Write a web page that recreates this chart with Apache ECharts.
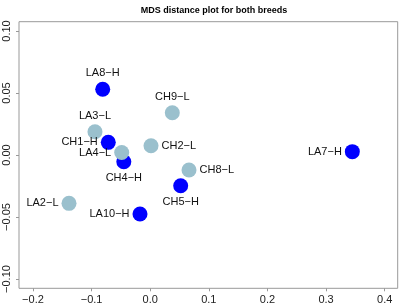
<!DOCTYPE html>
<html>
<head>
<meta charset="utf-8">
<script src="https://cdn.jsdelivr.net/npm/echarts@6/dist/echarts.min.js"></script>
<style>
html,body{margin:0;padding:0;background:#fff;}
#c{width:400px;height:306px;}
</style>
</head>
<body>
<div id="c"></div>
<script>
// samples in draw order (later ones sit on top)
const names = ["LA8−H","CH9−L","LA3−L","CH1−H","CH2−L","CH4−H","LA4−L","CH8−L","CH5−H","LA2−L","LA10−H","LA7−H"];
const dim1  = [-0.0810, 0.0377,-0.0942,-0.0715, 0.0014,-0.0450,-0.0486, 0.0662, 0.0520,-0.1385,-0.0174, 0.3448];
const dim2  = [ 0.0530, 0.0341, 0.0188, 0.0102, 0.0075,-0.0054, 0.0020,-0.0121,-0.0248,-0.0390,-0.0476, 0.0027];
const group = ["H","L","L","H","L","H","L","L","H","L","H","H"];
const xTicks = [-0.2,-0.1,0,0.1,0.2,0.3,0.4];
const yTicks = [-0.10,-0.05,0,0.05,0.10];

const colors = {H:'#0000FF', L:'#9AC0CD'};
const side = {"LA8−H":'top',"CH9−L":'top',"LA3−L":'top',"CH1−H":'left',"CH2−L":'right',"CH4−H":'bottom',
  "LA4−L":'left',"CH8−L":'right',"CH5−H":'bottom',"LA2−L":'left',"LA10−H":'left',"LA7−H":'left'};

const fmt = (v,d)=>{ const s=Math.abs(v).toFixed(d); return (v<0?'−':'')+s; };

const c = echarts.init(document.getElementById('c'));
c.setOption({
  animation:false,
  title:{text:'MDS distance plot for both breeds',left:209,top:1,textAlign:'center',
    textStyle:{fontFamily:'Liberation Sans',fontSize:9,fontWeight:'bold',color:'#000'}},
  grid:{left:19,right:2.3,top:21.7,bottom:17.7,show:true,borderColor:'#999',borderWidth:1},
  xAxis:{type:'value',min:-0.2238,max:0.4222,splitLine:{show:false},
    axisLine:{show:false,onZero:false},
    axisTick:{show:true,length:3,lineStyle:{color:'#999'},customValues:xTicks},
    axisLabel:{customValues:xTicks,formatter:v=>fmt(v,1),margin:6,
      fontFamily:'Liberation Sans',fontSize:11,color:'#222'}},
  yAxis:{type:'value',min:-0.1075,max:0.1075,splitLine:{show:false},
    axisLine:{show:false,onZero:false},
    axisTick:{show:true,length:3,lineStyle:{color:'#999'},customValues:yTicks},
    axisLabel:{customValues:yTicks,formatter:v=>fmt(v,2),rotate:90,margin:7,
      fontFamily:'Liberation Sans',fontSize:11,color:'#222'}},
  series:[{
    type:'scatter',symbolSize:15,
    data:names.map((n,i)=>({name:n,value:[dim1[i],dim2[i]],
      itemStyle:{color:colors[group[i]],opacity:1},
      label:{position:side[n]}})),
    label:{show:true,formatter:p=>p.name,distance:3,
      fontFamily:'Liberation Sans',fontSize:11,color:'#111'}
  }]
});
</script>
</body>
</html>
